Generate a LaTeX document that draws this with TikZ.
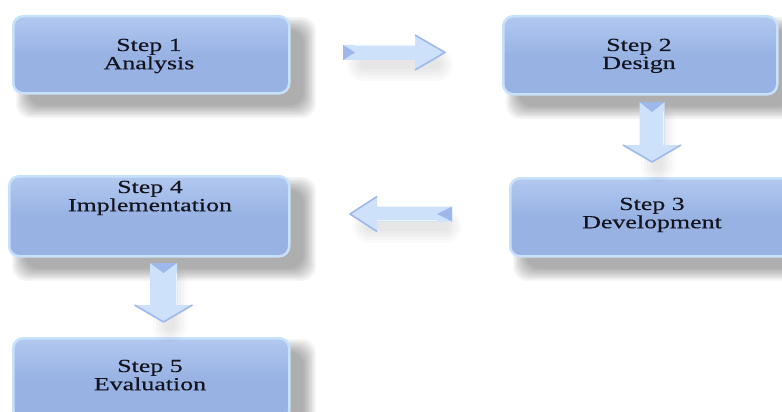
\documentclass[tikz,border=0pt]{standalone}
\usepackage{fontspec}
\setmainfont{Liberation Serif}[FakeStretch=1.4,FakeBold=0.4]
\definecolor{boxmid}{RGB}{152,178,228}
\definecolor{boxtop}{RGB}{178,201,240}
\definecolor{boxrim}{RGB}{200,225,251}
\definecolor{arrbody}{RGB}{206,225,250}
\definecolor{arrdark}{RGB}{158,184,235}
\definecolor{txtcol}{RGB}{20,20,30}
\tikzset{
  stepbox/.style={rounded corners=10pt, draw=boxrim, line width=2.5pt,
    top color=boxtop, bottom color=boxmid, middle color=boxmid,
    anchor=north west, inner sep=0pt},
  steptext/.style={anchor=base, inner sep=0pt, text=txtcol,
    font=\fontsize{18.5}{18}\selectfont},
  softshade/.style={fill=black, opacity=0.035},
  arrshade/.style={draw=black, opacity=0.02, line join=round, line cap=round},
}
\newcommand\boxshadow[4]{%
  \foreach \k in {0,...,9}{%
    \fill[softshade, rounded corners=14pt]
      ({#1+16-12+1.4*\k},{#2+14-12+1.4*\k}) rectangle
      ({#3+16+12-1.4*\k},{#4+14+12-1.4*\k});}}
% tail x, tail y, angle, length, shaft half, head half, head length, notch
\newcommand\blockarr[8]{%
  \begin{scope}[shift={({#1+6},{#2+12})}, rotate=#3]
    \foreach \w in {34,28,22,16,10}{%
      \draw[arrshade, line width=\w pt]
        ({#7/2},0) -- ({#4-#7/2},0);}
  \end{scope}
  \begin{scope}[shift={(#1,#2)}, rotate=#3]
    \fill[arrbody] (0,-#5) -- ({#4-#7},-#5) -- ({#4-#7},-#6) -- (#4,0)
      -- ({#4-#7},#6) -- ({#4-#7},#5) -- (0,#5) -- cycle;
    \fill[arrdark] (0,-#5) -- (#8,0) -- (0,#5) -- cycle;
    \draw[arrdark, line width=1.6pt, line join=round]
      ({#4-#7},-#6) -- (#4,0) -- ({#4-#7},#6);
    \draw[white, opacity=0.6, line width=1pt] (#8,{-#5+1}) -- ({#4-#7},{-#5+1});
  \end{scope}}
\begin{document}
\begin{tikzpicture}[x=1pt,y=-1pt]
  \useasboundingbox (0,0) rectangle (782,412);
  \fill[white] (0,0) rectangle (782,412);
  % shadows of the boxes
  \boxshadow{12}{15}{288}{92}
  \boxshadow{502}{15}{776}{93}
  \boxshadow{509}{177}{790}{255}
  \boxshadow{8}{175}{288}{255}
  \boxshadow{12}{337}{288}{418}
  % boxes
  \node[stepbox, minimum width=276pt, minimum height=77pt] (s1) at (12,15) {};
  \node[stepbox, minimum width=274pt, minimum height=78pt] (s2) at (502,15) {};
  \node[stepbox, minimum width=283pt, minimum height=78pt] (s3) at (509,177) {};
  \node[stepbox, minimum width=280pt, minimum height=80pt] (s4) at (8,175) {};
  \node[stepbox, minimum width=276pt, minimum height=82pt] (s5) at (12,337) {};
  % texts
  \node[steptext] (t1) at (149,51) {\begin{tabular}[t]{@{}c@{}}Step 1\\Analysis\end{tabular}};
  \node[steptext] (t2) at (639,51) {\begin{tabular}[t]{@{}c@{}}Step 2\\Design\end{tabular}};
  \node[steptext] (t3) at (652,210) {\begin{tabular}[t]{@{}c@{}}Step 3\\Development\end{tabular}};
  \node[steptext] (t4) at (150,193) {\begin{tabular}[t]{@{}c@{}}Step 4\\Implementation\end{tabular}};
  \node[steptext] (t5) at (150,372) {\begin{tabular}[t]{@{}c@{}}Step 5\\Evaluation\end{tabular}};
  % block arrows
  \blockarr{343}{52.5}{0}{102}{7.5}{17.5}{30}{12}
  \blockarr{652}{102}{-90}{60}{12.5}{29}{17}{10}
  \blockarr{452}{214}{180}{102}{7.5}{17.5}{27}{15}
  \blockarr{163.5}{263}{-90}{59}{13.5}{29}{17}{10}
\end{tikzpicture}
\end{document}
